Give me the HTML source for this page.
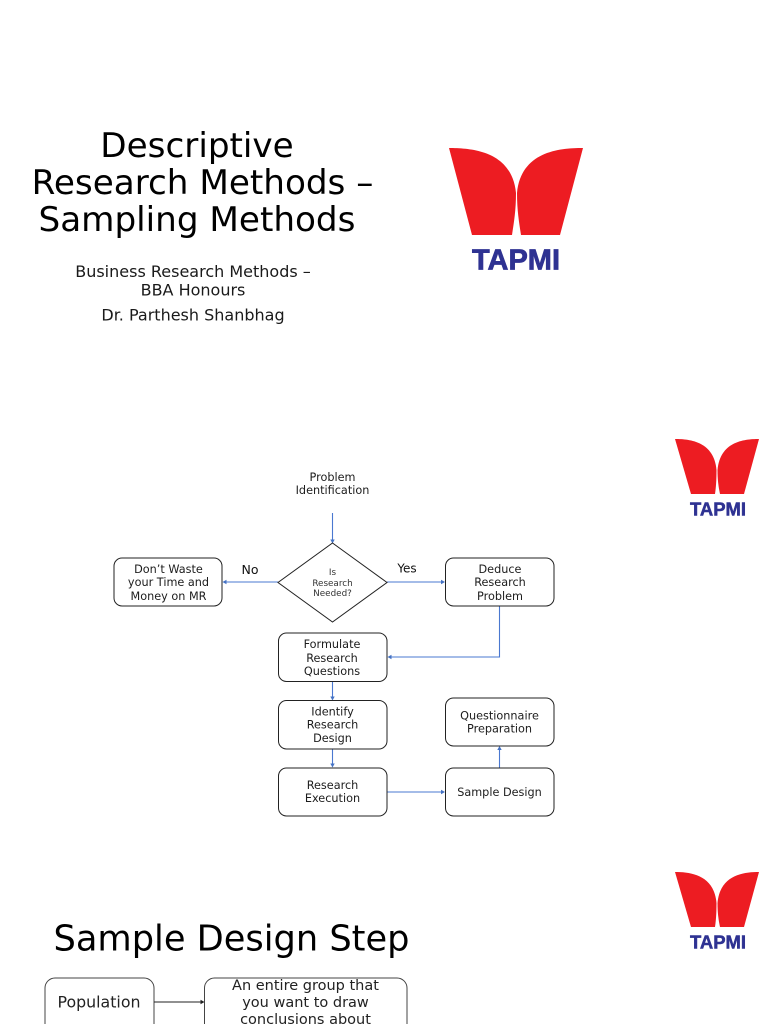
<!DOCTYPE html>
<html lang="en">
<head>
<meta charset="utf-8">
<title>Descriptive Research Methods – Sampling Methods</title>
<style>
html,body{margin:0;padding:0;background:#fff;width:768px;height:1024px;overflow:hidden}
svg{display:block}
text{font-family:"DejaVu Sans",sans-serif;text-anchor:middle;fill:#111}
.t{font-size:34.2px;fill:#000}
.s{font-size:16px;fill:#1a1a1a}
.f{font-size:11.25px;fill:#1c1c1c}
.d{font-size:8.8px;fill:#333}
.b{fill:#fff;stroke:#222;stroke-width:1}
.c{fill:none;stroke:#4a78d0;stroke-width:1.1}
.h{fill:#4472c4;stroke:none}
.l{font-family:"Liberation Sans",sans-serif;font-weight:bold;fill:#2e3192;stroke:#2e3192}
.r{fill:#ed1c24}
</style>
</head>
<body>
<svg width="768" height="1024" viewBox="0 0 768 1024" xmlns="http://www.w3.org/2000/svg">
<filter id="soft"><feGaussianBlur stdDeviation="0.35"/></filter>
<rect width="768" height="1024" fill="#fff"/>

<!-- Slide 1 -->
<text class="t" x="197" y="157">Descriptive</text>
<text class="t" x="202.500" y="194">Research Methods –</text>
<text class="t" x="197" y="231">Sampling Methods</text>
<text class="s" x="193" y="277">Business Research Methods –</text>
<text class="s" x="193" y="295.500">BBA Honours</text>
<text class="s" x="193" y="320.500">Dr. Parthesh Shanbhag</text>

<g filter="url(#soft)">
<path class="r" d="M449 148 C474 148 512 152 516 193 C516 210 514 222 512 235 L472 235 Z"/>
<path class="r" d="M583 148 C558 148 521 152 517 193 C517 210 519 222 521 235 L560 235 Z"/>
<text class="l" x="516" y="269.500" font-size="29" stroke-width="0.7" textLength="88" lengthAdjust="spacingAndGlyphs">TAPMI</text>
</g>

<!-- Slide 2 logo -->
<g filter="url(#soft)">
<path class="r" d="M675 439 C691 439 714 442 716.500 470 C716.500 480 716 487 715 494 L691 494 Z"/>
<path class="r" d="M759 439 C743 439 720 442 717.500 470 C717.500 480 718.500 487 720 494 L744 494 Z"/>
<text class="l" x="718" y="515.500" font-size="18.500" stroke-width="0.5" textLength="56" lengthAdjust="spacingAndGlyphs">TAPMI</text>
</g>

<!-- Flowchart connectors -->
<path class="c" d="M332.500 513V540"/>
<path class="h" d="M330.300 539.500h4.400l-2.200 4z"/>
<path class="c" d="M278 582H225"/>
<path class="h" d="M222.500 582l4-2.200v4.400z"/>
<path class="c" d="M387 582H442"/>
<path class="h" d="M445 582l-4-2.200v4.400z"/>
<path class="c" d="M499.500 606V657H391"/>
<path class="h" d="M387.500 657l4-2.200v4.400z"/>
<path class="c" d="M332.500 682V697"/>
<path class="h" d="M330.300 696.500h4.400l-2.200 4z"/>
<path class="c" d="M332.500 749V764"/>
<path class="h" d="M330.300 763.500h4.400l-2.200 4z"/>
<path class="c" d="M387 792H442"/>
<path class="h" d="M445 792l-4-2.200v4.400z"/>
<path class="c" d="M499.500 768V750"/>
<path class="h" d="M499.500 746l2.200 4h-4.400z"/>

<!-- Flowchart nodes -->
<text class="f" x="332.500" y="481">Problem</text>
<text class="f" x="332.500" y="494">Identification</text>

<rect class="b" x="114" y="558" width="108" height="48" rx="8"/>
<text class="f" x="168.500" y="573">Don’t Waste</text>
<text class="f" x="168.500" y="586">your Time and</text>
<text class="f" x="168.500" y="600">Money on MR</text>

<path class="b" d="M332.500 543L387 582.500L332.500 622L278 582.500Z"/>
<text class="d" x="332.500" y="575">Is</text>
<text class="d" x="332.500" y="586">Research</text>
<text class="d" x="332.500" y="596">Needed?</text>

<text x="250" y="574" style="font-size:12.500px">No</text>
<text x="407" y="572.500" style="font-size:12px">Yes</text>

<rect class="b" x="445.500" y="558" width="108.500" height="48" rx="8"/>
<text class="f" x="500" y="573">Deduce</text>
<text class="f" x="500" y="586">Research</text>
<text class="f" x="500" y="600">Problem</text>

<rect class="b" x="278.500" y="633" width="108.500" height="48.500" rx="8"/>
<text class="f" x="332" y="648">Formulate</text>
<text class="f" x="332" y="662">Research</text>
<text class="f" x="332" y="675">Questions</text>

<rect class="b" x="278.500" y="700.500" width="108.500" height="48.500" rx="8"/>
<text class="f" x="332.500" y="715.500">Identify</text>
<text class="f" x="332.500" y="728.500">Research</text>
<text class="f" x="332.500" y="742">Design</text>

<rect class="b" x="278.500" y="768" width="108.500" height="48" rx="8"/>
<text class="f" x="332.500" y="789">Research</text>
<text class="f" x="332.500" y="802">Execution</text>

<rect class="b" x="445.500" y="698" width="108.500" height="48" rx="8"/>
<text class="f" x="499.500" y="719.500">Questionnaire</text>
<text class="f" x="499.500" y="732.500">Preparation</text>

<rect class="b" x="445.500" y="768" width="108.500" height="48" rx="8"/>
<text class="f" x="499.500" y="796">Sample Design</text>

<!-- Slide 3 -->
<g filter="url(#soft)">
<path class="r" d="M675 872 C691 872 714 875 716.500 903 C716.500 913 716 920 715 927 L691 927 Z"/>
<path class="r" d="M759 872 C743 872 720 875 717.500 903 C717.500 913 718.500 920 720 927 L744 927 Z"/>
<text class="l" x="718" y="948.500" font-size="18.500" stroke-width="0.5" textLength="56" lengthAdjust="spacingAndGlyphs">TAPMI</text>
</g>

<text x="231.500" y="950.500" style="font-size:35.200px;fill:#000">Sample Design Step</text>

<rect class="b" x="45" y="978" width="109" height="60" rx="10" style="stroke:#444"/>
<text x="99" y="1007.500" style="font-size:15.800px;fill:#222">Population</text>

<path d="M154 1002H201" fill="none" stroke="#222" stroke-width="1"/>
<path d="M204.500 1002l-4-2.200v4.400z" fill="#222"/>

<rect class="b" x="204.500" y="978" width="202.500" height="60" rx="10" style="stroke:#444"/>
<text x="305.500" y="990" style="font-size:14.500px;fill:#222">An entire group that</text>
<text x="305.500" y="1007" style="font-size:14.500px;fill:#222">you want to draw</text>
<text x="305.500" y="1024" style="font-size:14.500px;fill:#222">conclusions about</text>
</svg>
</body>
</html>
